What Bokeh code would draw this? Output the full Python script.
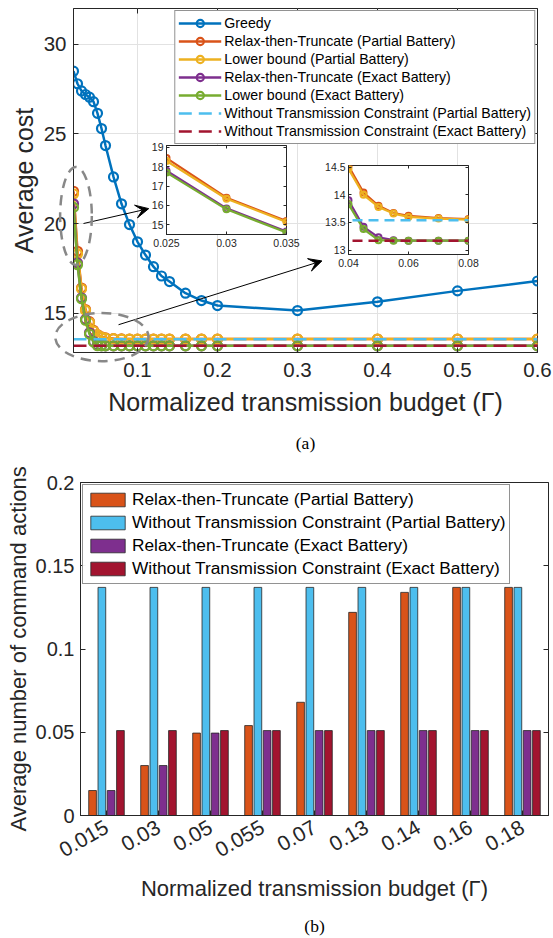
import math
from bokeh.plotting import figure
from bokeh.layouts import column
from bokeh.models import (FixedTicker, PrintfTickFormatter, LinearAxis, Arrow, VeeHead,
                          Title, FactorRange, ColumnDataSource, CustomJSTickFormatter)
from bokeh.transform import dodge
from bokeh.embed import file_html
from bokeh.resources import INLINE

# ---------------- data: panel (a) ----------------
gamma = [0.02, 0.025, 0.03, 0.035, 0.04, 0.045, 0.05, 0.055, 0.06, 0.07, 0.08, 0.09,
         0.1, 0.11, 0.12, 0.13, 0.14, 0.16, 0.18, 0.2, 0.3, 0.4, 0.5, 0.6]
greedy = [28.5, 27.8, 27.4, 27.2, 27.05, 26.8, 26.15, 25.3, 24.35, 22.6, 21.1, 19.94,
          18.98, 18.24, 17.59, 17.07, 16.76, 16.11, 15.7, 15.42, 15.14, 15.63, 16.24, 16.79]
rtt_partial = [21.8, 18.45, 16.4, 15.2, 14.52, 14.04, 13.8, 13.67, 13.62, 13.58, 13.56, 13.55,
               13.55, 13.55, 13.55, 13.55, 13.55, 13.55, 13.55, 13.55, 13.55, 13.55, 13.55, 13.55]
lb_partial = [21.65, 18.3, 16.35, 15.15, 14.47, 14.0, 13.78, 13.66, 13.6, 13.57, 13.55, 13.55,
              13.55, 13.55, 13.55, 13.55, 13.55, 13.55, 13.55, 13.55, 13.55, 13.55, 13.55, 13.55]
rtt_exact = [21.1, 17.8, 15.85, 14.65, 13.9, 13.42, 13.23, 13.18, 13.17, 13.17, 13.17, 13.17,
             13.17, 13.17, 13.17, 13.17, 13.17, 13.17, 13.17, 13.17, 13.17, 13.17, 13.17, 13.17]
lb_exact = [20.9, 17.7, 15.8, 14.6, 13.83, 13.38, 13.18, 13.17, 13.17, 13.17, 13.17, 13.17,
            13.17, 13.17, 13.17, 13.17, 13.17, 13.17, 13.17, 13.17, 13.17, 13.17, 13.17, 13.17]
wtc_partial = 13.54
wtc_exact = 13.17

x_ticks_a = [0.1, 0.2, 0.3, 0.4, 0.5, 0.6]
y_ticks_a = [15, 20, 25, 30]
inset1_x_ticks = [0.025, 0.03, 0.035]
inset1_y_ticks = [15, 16, 17, 18, 19]
inset2_x_ticks = [0.04, 0.06, 0.08]
inset2_y_ticks = [13, 13.5, 14, 14.5]

# ---------------- data: panel (b) ----------------
budgets = ["0.015", "0.03", "0.05", "0.055", "0.07", "0.13", "0.14", "0.16", "0.18"]
bar_rtt_partial = [0.015, 0.03, 0.0495, 0.054, 0.068, 0.122, 0.134, 0.137, 0.137]
bar_wtc_partial = [0.137, 0.137, 0.137, 0.137, 0.137, 0.137, 0.137, 0.137, 0.137]
bar_rtt_exact = [0.015, 0.03, 0.0495, 0.051, 0.051, 0.051, 0.051, 0.051, 0.051]
bar_wtc_exact = [0.051, 0.051, 0.051, 0.051, 0.051, 0.051, 0.051, 0.051, 0.051]
y_ticks_b = [0, 0.05, 0.1, 0.15, 0.2]

# ---------------- style ----------------
FONT = "Liberation Sans"
SERIF = "Liberation Serif"
AX = "#262626"
COL = {
    "greedy": "#0072BD", "rttp": "#D95319", "lbp": "#EDB120",
    "rtte": "#7E2F8E", "lbe": "#77AC30", "wtcp": "#4DBEEE", "wtce": "#A2142F",
}
LBL = {
    "greedy": "Greedy",
    "rttp": "Relax-then-Truncate (Partial Battery)",
    "lbp": "Lower bound (Partial Battery)",
    "rtte": "Relax-then-Truncate (Exact Battery)",
    "lbe": "Lower bound (Exact Battery)",
    "wtcp": "Without Transmission Constraint (Partial Battery)",
    "wtce": "Without Transmission Constraint (Exact Battery)",
}


def style_axis(ax, font_size, tick_len, standoff):
    ax.major_label_text_font = FONT
    ax.major_label_text_font_size = font_size
    ax.major_label_text_color = AX
    ax.major_tick_in = tick_len
    ax.major_tick_out = 0
    ax.major_tick_line_color = AX
    ax.minor_tick_line_color = None
    ax.axis_line_color = AX
    ax.major_label_standoff = standoff


def mirror(p, ticks, where, tick_len):
    ax = LinearAxis(ticker=FixedTicker(ticks=ticks),
                    formatter=CustomJSTickFormatter(code="return ''"))
    ax.major_label_text_font_size = "0px"
    ax.major_label_standoff = 0
    ax.axis_label_standoff = 0
    ax.major_tick_in = tick_len
    ax.major_tick_out = 0
    ax.minor_tick_out = 0
    ax.major_tick_line_color = AX
    ax.minor_tick_line_color = None
    ax.axis_line_color = None
    p.add_layout(ax, where)


# ================= panel (a) =================
A_LEFT, A_TOP, A_W, A_H = 73, 8, 464, 344
A_X = (0.02, 0.6)
A_Y = (12.8, 32)
pa = figure(frame_width=A_W, frame_height=A_H, x_range=A_X, y_range=A_Y, frame_align=False,
            min_border_left=A_LEFT, min_border_right=553 - A_LEFT - A_W, min_border_top=A_TOP,
            min_border_bottom=110,
            output_backend="svg", toolbar_location=None,
            background_fill_color="white", border_fill_color="white")
pa.outline_line_color = AX
pa.outline_line_width = 1
pa.outline_line_alpha = 1

xa = pa.xaxis[0]
ya = pa.yaxis[0]
xa.ticker = FixedTicker(ticks=x_ticks_a)
ya.ticker = FixedTicker(ticks=y_ticks_a)
xa.formatter = PrintfTickFormatter(format="%g")
ya.formatter = PrintfTickFormatter(format="%g")
style_axis(xa, "20.5px", 5, 10)
style_axis(ya, "20.5px", 5, 7)
xa.axis_label = "Normalized transmission budget (Γ)"
ya.axis_label = "Average cost"
for ax in (xa, ya):
    ax.axis_label_text_font = FONT
    ax.axis_label_text_font_size = "25px"
    ax.axis_label_text_font_style = "normal"
    ax.axis_label_text_color = AX
xa.axis_label_standoff = 8
ya.axis_label_standoff = 3
pa.xgrid.ticker = FixedTicker(ticks=x_ticks_a)
pa.ygrid.ticker = FixedTicker(ticks=y_ticks_a)
pa.grid.grid_line_color = "#e2e2e2"
pa.grid.grid_line_width = 1
mirror(pa, x_ticks_a, "above", 5)
mirror(pa, y_ticks_a, "right", 5)

series = [("greedy", greedy), ("rttp", rtt_partial), ("lbp", lb_partial),
          ("rtte", rtt_exact), ("lbe", lb_exact)]
for key, ys in series:
    pa.line(gamma, ys, line_color=COL[key], line_width=2.5, legend_label=LBL[key])
    pa.scatter(gamma, ys, marker="circle", size=9, line_color=COL[key], line_width=2.2,
               fill_color=None, legend_label=LBL[key])
pa.line([gamma[0], gamma[-1]], [wtc_partial, wtc_partial], line_color=COL["wtcp"],
        line_width=2.5, line_dash="13 7", legend_label=LBL["wtcp"])
pa.line([gamma[0], gamma[-1]], [wtc_exact, wtc_exact], line_color=COL["wtce"],
        line_width=2.5, line_dash="13 7", legend_label=LBL["wtce"])

lg = pa.legend[0]
lg.location = "top_right"
lg.margin = 2
lg.padding = 3
lg.spacing = 0
lg.glyph_width = 43
lg.glyph_height = 18
lg.label_height = 18
lg.label_standoff = 3
lg.label_text_font = FONT
lg.label_text_font_size = "14.2px"
lg.label_text_color = "black"
lg.border_line_color = AX
lg.border_line_width = 1
lg.background_fill_alpha = 1

# arrows to insets
for xs_, ys_, xe_, ye_ in [(0.0325, 20.0, 0.114, 20.83), (0.0763, 14.35, 0.3305, 17.91)]:
    pa.add_layout(Arrow(x_start=xs_, y_start=ys_, x_end=xe_, y_end=ye_, line_color="black",
                        line_width=1,
                        end=VeeHead(size=13, fill_color="black", line_color="black",
                                    line_width=1)))

pa.add_layout(Title(text="(a)", align="center", text_font=SERIF, text_font_size="17.5px",
                    text_font_style="normal", text_color="black", standoff=24), "below")

# ---- transparent overlay sharing panel (a)'s scale, for the dashed zoom ellipses ----
OV_L, OV_T, OV_W, OV_H = 40, 150, 160, 225
ppx = A_W / (A_X[1] - A_X[0])
ppy = A_H / (A_Y[1] - A_Y[0])
ov_x = (A_X[0] + (OV_L - A_LEFT) / ppx, A_X[0] + (OV_L + OV_W - A_LEFT) / ppx)
ov_y = (A_Y[1] - (OV_T + OV_H - A_TOP) / ppy, A_Y[1] - (OV_T - A_TOP) / ppy)
ov = figure(width=OV_W, height=OV_H, x_range=ov_x, y_range=ov_y, frame_align=False,
            min_border_left=0, min_border_right=0, min_border_top=0, min_border_bottom=0,
            x_axis_location=None, y_axis_location=None,
            output_backend="svg", toolbar_location=None,
            background_fill_alpha=0, border_fill_alpha=0,
            styles={"position": "absolute", "left": f"{OV_L}px", "top": f"{OV_T}px",
                    "z-index": "6", "pointer-events": "none"})
ov.outline_line_color = None
ov.grid.visible = False
ov.ellipse(x=[0.0231, 0.0555], y=[20.42, 13.66], width=[0.0396, 0.1166], height=[5.46, 2.69],
           fill_alpha=0, line_color="#888888", line_width=2.5, line_dash="10 7")


# ================= insets =================
def make_inset(xr, yr, xt, yt, frame_left, frame_top, bl):
    br, bt, bb = 14, 4, 20
    w, h = bl + 120 + br, bt + 89 + bb
    q = figure(width=w, height=h, x_range=xr, y_range=yr, frame_align=False,
               min_border_left=bl, min_border_right=br, min_border_top=bt, min_border_bottom=bb,
               output_backend="svg", toolbar_location=None,
               background_fill_color="white", border_fill_alpha=0,
               styles={"position": "absolute", "left": f"{frame_left - bl}px",
                       "top": f"{frame_top - bt}px", "z-index": "5"})
    q.outline_line_color = AX
    q.outline_line_width = 1
    q.grid.visible = False
    qx, qy = q.xaxis[0], q.yaxis[0]
    qx.ticker = FixedTicker(ticks=xt)
    qy.ticker = FixedTicker(ticks=yt)
    qx.formatter = PrintfTickFormatter(format="%g")
    qy.formatter = PrintfTickFormatter(format="%g")
    style_axis(qx, "10.5px", 3, 4)
    style_axis(qy, "10.5px", 3, 3)
    mirror(q, xt, "above", 3)
    mirror(q, yt, "right", 3)
    for key, ys in series[1:]:
        q.line(gamma, ys, line_color=COL[key], line_width=2.2)
        q.scatter(gamma, ys, marker="circle", size=6, line_color=COL[key], line_width=2,
                  fill_color=None)
    q.line([gamma[0], gamma[-1]], [wtc_partial, wtc_partial], line_color=COL["wtcp"],
           line_width=2.5, line_dash="10 6")
    q.line([gamma[0], gamma[-1]], [wtc_exact, wtc_exact], line_color=COL["wtce"],
           line_width=2.5, line_dash="10 6")
    return q


ins1 = make_inset((0.025, 0.035), (14.5, 19.1), inset1_x_ticks, inset1_y_ticks, 166, 145, 24)
ins2 = make_inset((0.04, 0.08), (12.92, 14.53), inset2_x_ticks, inset2_y_ticks, 348, 165, 28)

# ================= panel (b) =================
src = ColumnDataSource(dict(g=budgets, a=bar_rtt_partial, b=bar_wtc_partial,
                            c=bar_rtt_exact, d=bar_wtc_exact))
pb = figure(x_range=FactorRange(factors=budgets), y_range=(0, 0.2), frame_align=False,
            frame_width=468, frame_height=333,
            min_border_left=80, min_border_right=5, min_border_top=18, min_border_bottom=122,
            output_backend="svg", toolbar_location=None,
            background_fill_color="white", border_fill_color="white")
pb.outline_line_color = AX
pb.outline_line_width = 1
pb.grid.visible = False
bx, by = pb.xaxis[0], pb.yaxis[0]
by.ticker = FixedTicker(ticks=y_ticks_b)
by.formatter = PrintfTickFormatter(format="%g")
style_axis(bx, "21px", 5, 10)
style_axis(by, "20px", 5, 6)
bx.major_label_orientation = math.pi / 6
bx.axis_label = "Normalized transmission budget (Γ)"
by.axis_label = "Average number of command actions"
for ax in (bx, by):
    ax.axis_label_text_font = FONT
    ax.axis_label_text_font_size = "22px"
    ax.axis_label_text_font_style = "normal"
    ax.axis_label_text_color = AX
bx.axis_label_standoff = 9
by.axis_label_standoff = 2
mirror(pb, y_ticks_b, "right", 5)

bars = [("a", "rttp", -0.268), ("b", "wtcp", -0.089), ("c", "rtte", 0.089), ("d", "wtce", 0.268)]
for col, key, off in bars:
    pb.vbar(x=dodge("g", off, range=pb.x_range), top=col, width=0.148, source=src,
            fill_color=COL[key], line_color=AX, line_width=0.8, legend_label=LBL[key])

lb = pb.legend[0]
lb.location = "top_left"
lb.margin = 2
lb.padding = 3
lb.spacing = 0
lb.glyph_width = 43
lb.glyph_height = 17
lb.label_height = 23
lb.label_standoff = 3
lb.label_text_font = FONT
lb.label_text_font_size = "17.3px"
lb.label_text_color = "black"
lb.border_line_color = AX
lb.border_line_width = 1

pb.add_layout(Title(text="(b)", align="center", text_font=SERIF, text_font_size="17.5px",
                    text_font_style="normal", text_color="black", standoff=21), "below")

layout = column(pa, pb, ins1, ins2, ov, styles={"position": "relative"})
open("out.html", "w").write(file_html(layout, INLINE))
